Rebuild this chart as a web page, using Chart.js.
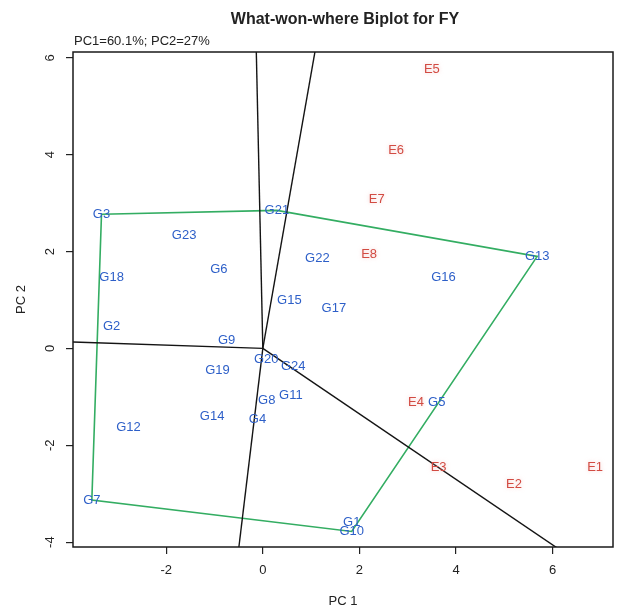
<!DOCTYPE html>
<html>
<head>
<meta charset="utf-8">
<script src="https://cdn.jsdelivr.net/npm/chart.js@4/dist/chart.umd.min.js"></script>
<style>
  html, body { margin: 0; padding: 0; background: #ffffff; }
  #wrap { width: 618px; height: 609px; }
</style>
</head>
<body>
<div id="wrap"><canvas id="biplot" width="618" height="609"></canvas></div>
<script>
// Genotype scores on the first two principal components
const genotypes = ['G1','G2','G3','G4','G5','G6','G7','G8','G9','G10','G11','G12',
                   'G13','G14','G15','G16','G17','G18','G19','G20','G21','G22','G23','G24'];
const genoPC1 = [1.84, -3.13, -3.34, -0.11, 3.60, -0.91, -3.54, 0.08, -0.75, 1.84, 0.58, -2.78,
                 5.68, -1.05, 0.55, 3.74, 1.47, -3.13, -0.94, 0.07, 0.29, 1.13, -1.63, 0.63];
const genoPC2 = [-3.60, 0.45, 2.77, -1.47, -1.11, 1.64, -3.13, -1.07, 0.17, -3.78, -0.97, -1.64,
                 1.90, -1.40, 1.00, 1.47, 0.83, 1.46, -0.46, -0.23, 2.85, 1.85, 2.33, -0.38];

// Environment scores
const environments = ['E1','E2','E3','E4','E5','E6','E7','E8'];
const envPC1 = [6.88, 5.20, 3.64, 3.17, 3.50, 2.76, 2.36, 2.20];
const envPC2 = [-2.46, -2.81, -2.45, -1.11, 5.76, 4.09, 3.08, 1.95];

// Vertex genotypes of the polygon, in drawing order
const hullOrder = ['G3', 'G21', 'G13', 'G10', 'G7'];

// Axis limits and ticks
const xLimits = [-3.93, 7.25];
const yLimits = [-4.10, 6.12];
const xTicks = [-2, 0, 2, 4, 6];
const yTicks = [-4, -2, 0, 2, 4, 6];

const titleText = 'What-won-where Biplot for FY';
const subtitleText = 'PC1=60.1%; PC2=27%';

const FONT = '"Liberation Sans", Arial, sans-serif';
const GENO_COLOR = '#2d5fc8';
const ENV_COLOR = '#d24b42';
const HULL_COLOR = '#33ad62';
const RAY_COLOR = '#141414';

const genoPoint = name => {
  const i = genotypes.indexOf(name);
  return { x: genoPC1[i], y: genoPC2[i] };
};

// Polygon joining the vertex genotypes
const hullPoints = hullOrder.map(genoPoint);
const hullData = hullPoints.concat([hullPoints[0]]);

// Lines from the origin, perpendicular to each polygon side
const rayData = hullPoints.map((a, k) => {
  const b = hullPoints[(k + 1) % hullPoints.length];
  let nx = -(b.y - a.y), ny = b.x - a.x;
  if (nx * a.x + ny * a.y < 0) { nx = -nx; ny = -ny; }
  const len = Math.hypot(nx, ny);
  const reach = 40;
  return [{ x: 0, y: 0 }, { x: nx / len * reach, y: ny / len * reach }];
});

const datasets = [];
rayData.forEach(seg => datasets.push({
  type: 'scatter', data: seg, showLine: true, borderColor: RAY_COLOR,
  borderWidth: 1.4, pointRadius: 0, fill: false, kind: 'ray'
}));
datasets.push({
  type: 'scatter', data: hullData, showLine: true, borderColor: HULL_COLOR,
  borderWidth: 1.6, pointRadius: 0, fill: false, kind: 'hull'
});
datasets.push({
  type: 'scatter', data: genotypes.map((g, i) => ({ x: genoPC1[i], y: genoPC2[i] })),
  pointRadius: 0, kind: 'geno', names: genotypes, color: GENO_COLOR
});
datasets.push({
  type: 'scatter', data: environments.map((e, i) => ({ x: envPC1[i], y: envPC2[i] })),
  pointRadius: 0, kind: 'env', names: environments, color: ENV_COLOR
});

// Text labels at each score point
const pointLabels = {
  id: 'pointLabels',
  afterDatasetsDraw(chart) {
    const ctx = chart.ctx;
    chart.data.datasets.forEach((ds, di) => {
      if (!ds.names) return;
      const meta = chart.getDatasetMeta(di);
      ctx.save();
      ctx.font = '13px ' + FONT;
      ctx.textAlign = 'center';
      ctx.textBaseline = 'middle';
      ctx.fillStyle = ds.color;
      if (ds.kind === 'env') {
        ctx.shadowColor = 'rgba(235,160,160,0.55)';
        ctx.shadowBlur = 4;
      }
      meta.data.forEach((el, i) => ctx.fillText(ds.names[i], el.x, el.y));
      ctx.restore();
    });
  }
};

// Box around the plotting region
const frame = {
  id: 'frame',
  afterDraw(chart) {
    const { ctx, chartArea: a } = chart;
    ctx.save();
    ctx.strokeStyle = '#1a1a1a';
    ctx.lineWidth = 1.5;
    ctx.strokeRect(a.left, a.top, a.right - a.left, a.bottom - a.top);
    ctx.restore();
  }
};

// Main title and the explained-variance note
const headings = {
  id: 'headings',
  afterDraw(chart) {
    const ctx = chart.ctx;
    ctx.save();
    ctx.fillStyle = '#222222';
    ctx.textBaseline = 'middle';
    ctx.textAlign = 'center';
    ctx.font = 'bold 16px ' + FONT;
    ctx.fillText(titleText, 345, 20);
    ctx.textAlign = 'left';
    ctx.font = '13px ' + FONT;
    ctx.fillText(subtitleText, chart.chartArea.left + 1, 41);
    ctx.restore();
  }
};

new Chart(document.getElementById('biplot'), {
  type: 'scatter',
  data: { datasets },
  plugins: [pointLabels, frame, headings],
  options: {
    responsive: false,
    animation: false,
    devicePixelRatio: 1,
    layout: { padding: { left: 0, right: 5, top: 52, bottom: 0 } },
    plugins: { legend: { display: false }, tooltip: { enabled: false }, title: { display: false } },
    scales: {
      x: {
        type: 'linear', min: xLimits[0], max: xLimits[1],
        afterBuildTicks: s => { s.ticks = xTicks.map(v => ({ value: v })); },
        afterFit: s => { s.height = 62; },
        ticks: { color: '#222', font: { family: FONT, size: 13 }, padding: 9 },
        grid: { drawOnChartArea: false, drawTicks: true, tickLength: 7, color: '#222', lineWidth: 1.2 },
        border: { display: false },
        title: { display: true, text: 'PC 1', color: '#222', font: { family: FONT, size: 13 }, padding: { top: 0, bottom: 0 } }
      },
      y: {
        type: 'linear', min: yLimits[0], max: yLimits[1],
        afterBuildTicks: s => { s.ticks = yTicks.map(v => ({ value: v })); },
        afterFit: s => { s.width = 73; },
        ticks: { color: '#222', font: { family: FONT, size: 13 }, padding: 10,
                 minRotation: 90, maxRotation: 90, crossAlign: 'center' },
        grid: { drawOnChartArea: false, drawTicks: true, tickLength: 7, color: '#222', lineWidth: 1.2 },
        border: { display: false },
        title: { display: true, text: 'PC 2', color: '#222', font: { family: FONT, size: 13 }, padding: { top: 14, bottom: 0 } }
      }
    }
  }
});
</script>
</body>
</html>
